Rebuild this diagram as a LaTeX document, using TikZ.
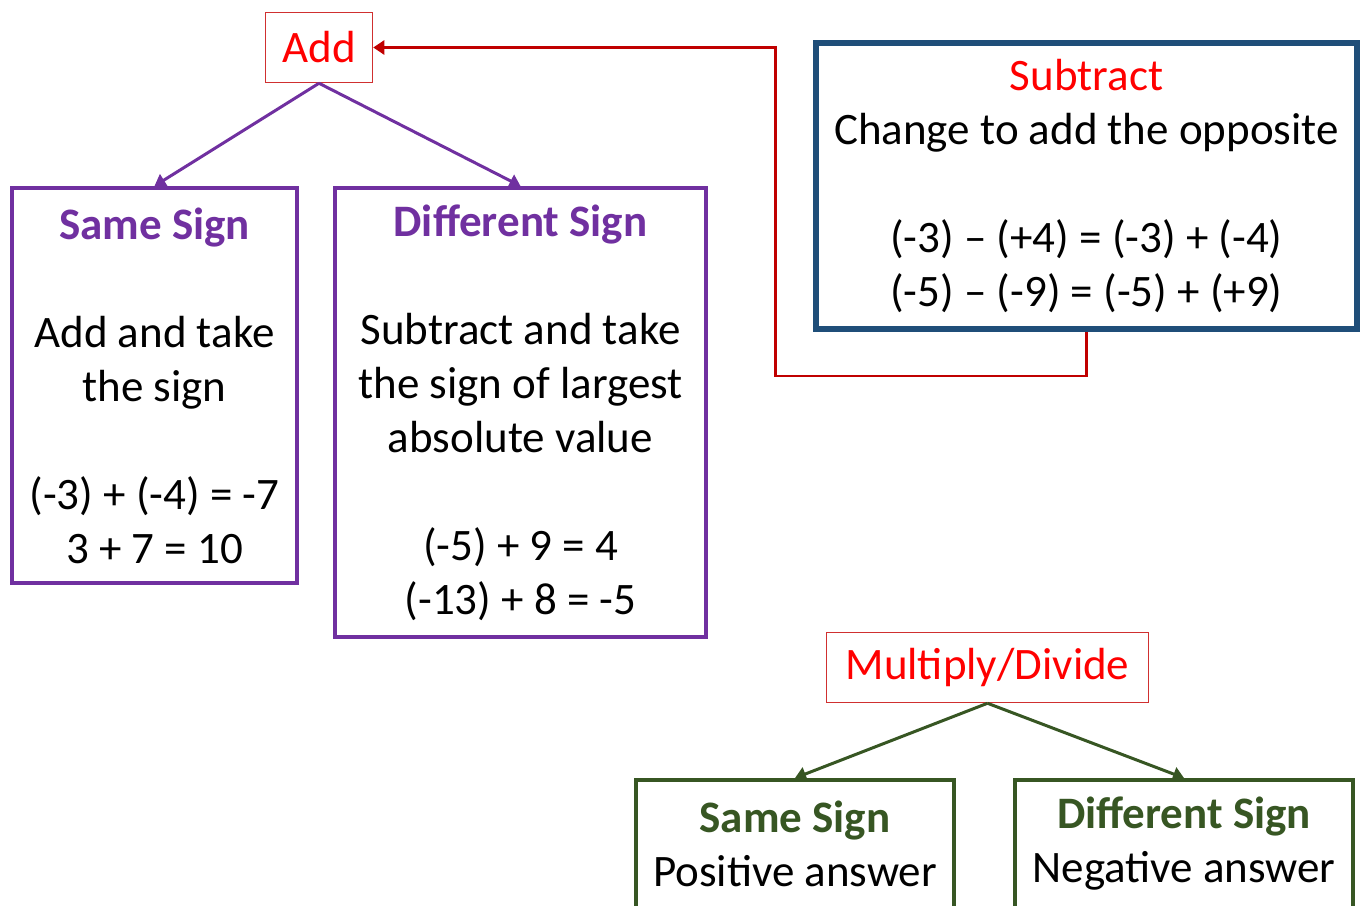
\documentclass[tikz,border=0pt]{standalone}
\usepackage{fontspec}
\setmainfont{Carlito}
\usepackage{tikz}
\usetikzlibrary{arrows.meta, positioning, calc}

\begin{document}
\begin{tikzpicture}[
    x=1pt, y=-1pt,
    >={Triangle[length=11pt, width=14pt]},
]
\definecolor{opRed}{HTML}{FF0000}
\definecolor{opBorder}{HTML}{D03030}
\definecolor{linkRed}{HTML}{C00000}
\definecolor{addPurple}{HTML}{7030A0}
\definecolor{subBlue}{HTML}{1F4E79}
\definecolor{mulGreen}{HTML}{375623}

\tikzset{
    opbox/.style={
        rectangle, draw=opBorder, line width=1.5pt, inner sep=0pt,
        text=opRed, font=\fontsize{45}{54}\selectfont,
    },
    rulebox/.style={
        rectangle, line width=4pt, inner sep=0pt, align=center,
        text=black, font=\fontsize{45}{54}\selectfont,
    },
    addflow/.style={->, draw=addPurple, line width=3pt},
    mulflow/.style={->, draw=mulGreen, line width=3pt},
    subflow/.style={->, draw=linkRed, line width=2.5pt},
}

\useasboundingbox (0,0) rectangle (1364,905);

% addition
\node[opbox, minimum width=107pt, minimum height=70pt] (add) at (319,47.5) {Add};
\node[rulebox, draw=addPurple, minimum width=285pt, minimum height=395pt]
    (addsame) at (154.5,385.5)
    {{\bfseries\color{addPurple}Same Sign}\\[54pt]
     Add and take\\the sign\\[54pt]
     (-3) + (-4) = -7\\3 + 7 = 10};
\node[rulebox, draw=addPurple, minimum width=371pt, minimum height=449pt]
    (adddiff) at (520.5,412.5)
    {{\bfseries\color{addPurple}Different Sign}\\[54pt]
     Subtract and take\\the sign of largest\\absolute value\\[54pt]
     (-5) + 9 = 4\\(-13) + 8 = -5};

% subtraction
\node[rulebox, draw=subBlue, line width=6pt, minimum width=541pt, minimum height=286pt]
    (sub) at (1086.5,186)
    {{\color{opRed}Subtract}\\Change to add the opposite\\[54pt]
     (-3) -- (+4) = (-3) + (-4)\\(-5) -- (-9) = (-5) + (+9)};

% multiplication and division
\node[opbox, minimum width=322pt, minimum height=70pt] (mul) at (987.5,667.5) {Multiply/Divide};
\node[rulebox, draw=mulGreen, minimum width=318pt, minimum height=128pt]
    (mulsame) at (795,844)
    {{\bfseries\color{mulGreen}Same Sign}\\Positive answer};
\node[rulebox, draw=mulGreen, minimum width=338pt, minimum height=128pt]
    (muldiff) at (1184,844)
    {{\bfseries\color{mulGreen}Different Sign}\\Negative answer};

\draw[addflow] (add.south) -- (addsame.north);
\draw[addflow] (add.south) -- (adddiff.north);
\draw[mulflow] (mul.south) -- (mulsame.north);
\draw[mulflow] (mul.south) -- (muldiff.north);
\draw[subflow] (sub.south) -- ++(0,44) -| ($(add.east)+(402,0)$) -- (add.east);

\end{tikzpicture}
\end{document}
